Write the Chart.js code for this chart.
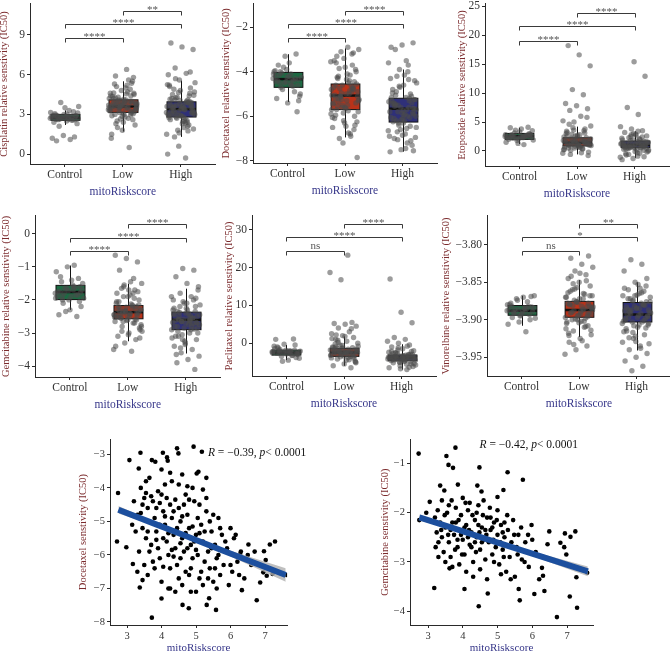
<!DOCTYPE html>
<html>
<head>
<meta charset="utf-8">
<script src="https://cdn.jsdelivr.net/npm/chart.js@4.4.0/dist/chart.umd.min.js"></script>
<style>
  body { margin: 0; background: #fff; width: 670px; height: 653px; position: relative; overflow: hidden; }
  canvas { position: absolute; }
</style>
</head>
<body>
<script>
// ---- data ----
const groups = ['Control', 'Low', 'High'];
const boxColors = ['#1d6a43', '#b9331a', '#2f3079'];

// box stats per group: [whisker low, q1, median, q3, whisker high]
const cisStats = [[2.2, 2.55, 2.75, 3.0, 3.3], [1.7, 3.15, 3.6, 4.1, 5.5], [1.3, 2.8, 3.4, 3.95, 5.55]];
const cisControl = [2.7, 2.8, 2.9, 2.6, 3.0, 2.75, 2.85, 2.65, 3.1, 2.5, 2.95, 3.2, 2.7, 2.8, 3.3, 2.6, 2.9, 3.5, 2.4, 2.8, 3.9, 3.6, 2.7, 1.0, 1.3, 1.4, 1.2, 1.1, 2.1, 2.3, 2.85, 3.05, 2.55, 2.75, 3.15,
  2.65, 2.78, 2.88, 2.72, 2.92, 2.58, 2.82, 2.68, 3.02, 2.62];
const cisLow = [3.6, 3.8, 4.0, 3.4, 3.2, 3.7, 4.2, 3.5, 3.9, 4.5, 3.1, 2.9, 3.3, 4.1, 3.6, 5.0, 5.3, 5.5, 4.8, 4.6, 2.7, 2.5, 2.2, 3.0, 3.8, 4.4, 3.5, 3.7, 6.4, 5.9, 5.8, 1.8, 1.2, 0.5, 4.3, 3.4, 2.8, 3.9, 4.0, 3.6, 3.3, 4.7, 5.1, 3.2, 2.4, 3.6, 4.9, 3.5, 3.8, 4.1, 3.0, 2.6, 3.7, 4.4, 5.6, 2.0, 3.4, 3.9, 4.2, 3.1, 3.6, 3.5, 5.2, 2.3, 4.6, 3.8, 1.5, 4.0, 3.3, 3.7,
  3.45, 3.65, 3.85, 4.05, 3.25, 3.55, 3.75, 3.95, 4.15, 4.35, 2.95, 3.15, 3.35, 4.55, 4.25, 3.05, 2.85, 3.62, 3.82, 4.02, 3.42, 3.72, 4.62, 5.35, 2.65];
const cisHigh = [3.4, 3.2, 3.6, 2.9, 3.8, 4.1, 2.7, 3.0, 3.5, 4.5, 5.0, 5.6, 6.0, 6.1, 6.5, 7.9, 8.1, 8.4, 2.2, 1.8, 1.5, 2.5, 3.3, 3.9, 4.8, 5.2, 2.4, 2.8, 3.1, 3.7, 4.2, 4.6, 0.6, 0.0, -0.3, 1.3, 3.4, 3.6, 2.6, 3.9, 4.3, 5.4, 2.0, 3.0, 3.5, 3.8, 2.9, 4.0, 5.7, 1.9, 2.3, 3.3, 4.4, 3.2, 3.6, 2.7, 4.9, 3.1, 3.4, 5.1, 2.1, 3.7, 4.7, 2.8, 3.5, 6.2, 1.6, 3.0, 3.9, 4.1,
  3.25, 3.45, 3.65, 3.85, 2.95, 3.15, 3.35, 3.55, 3.75, 4.05, 2.75, 2.55, 4.25, 4.45, 2.45, 3.05, 3.95, 4.65, 5.25, 2.35, 3.62, 3.12, 2.88, 4.15, 1.75];
const cisTicks = [0, 3, 6, 9];
const cisBrackets = [[1, 2, 8.75, '****'], [1, 3, 9.85, '****'], [2, 3, 10.85, '**']];

const docStats = [[-5.36, -4.7, -4.33, -4.03, -3.21], [-6.95, -5.7, -5.07, -4.55, -2.95], [-7.59, -6.26, -5.66, -5.19, -3.9]];
const docControl = [-4.3, -4.1, -4.5, -4.6, -3.9, -4.2, -4.4, -4.8, -5.0, -3.6, -3.7, -3.2, -3.3, -4.0, -4.35, -4.7, -5.3, -5.4, -5.2, -4.9, -3.8, -4.25, -4.55, -4.15, -5.8, -4.45, -3.95, -4.65, -4.05, -5.1,
  -4.2, -4.4, -4.3, -4.5, -4.1, -4.6, -4.0, -4.35, -4.25, -4.45];
const docLow = [-5.1, -4.9, -5.3, -4.6, -4.8, -5.5, -5.7, -4.4, -4.2, -4.0, -3.8, -3.5, -3.2, -3.1, -3.0, -2.9, -3.3, -6.0, -6.2, -6.5, -6.8, -7.0, -7.85, -5.0, -5.2, -4.7, -5.6, -5.9, -4.5, -4.3, -3.9, -6.3, -5.4, -4.65, -5.15, -5.8, -4.1, -3.6, -6.6, -7.2, -5.05, -4.85, -5.35, -4.55, -5.65, -6.1, -3.7, -4.95, -5.25, -5.75, -4.25, -6.4, -3.4, -5.45, -6.9, -4.75, -5.1, -4.35, -5.95, -3.15,
  -4.6, -4.8, -5.0, -5.2, -5.4, -5.6, -4.7, -4.9, -5.1, -5.3, -5.5, -5.7, -4.45, -5.85, -6.05, -4.15, -3.85, -6.25, -6.45, -5.05, -4.75, -5.25, -3.55, -6.75, -5.55];
const docHigh = [-5.7, -5.5, -5.9, -6.1, -5.3, -5.2, -6.3, -6.5, -6.8, -7.0, -7.3, -7.5, -7.6, -4.0, -4.2, -4.4, -4.6, -4.8, -5.0, -3.9, -3.6, -3.5, -3.0, -2.7, -2.8, -2.9, -5.6, -5.8, -6.0, -6.2, -5.4, -5.1, -6.6, -6.9, -7.2, -4.9, -5.65, -5.75, -5.45, -6.05, -6.4, -4.5, -7.45, -5.55, -5.85, -6.15, -4.3, -3.7, -6.7, -5.25, -5.95, -6.25, -7.1, -4.7, -5.35, -6.55, -5.05, -7.55, -6.85, -5.15,
  -5.3, -5.5, -5.7, -5.9, -6.1, -5.4, -5.6, -5.8, -6.0, -6.2, -5.25, -6.3, -4.95, -6.45, -4.65, -6.65, -5.15, -5.45, -5.65, -5.85, -6.05, -4.35, -7.05, -6.95, -4.15];
const docTicks = [-8, -6, -4, -2];
const docBrackets = [[1, 2, -2.49, '****'], [1, 3, -1.87, '****'], [2, 3, -1.29, '****']];

const etoStats = [[1.2, 2.0, 2.55, 3.03, 4.0], [-0.6, 0.86, 1.42, 2.28, 4.2], [-1.2, 0.57, 1.05, 1.71, 3.4]];
const etoControl = [2.5, 2.3, 2.7, 2.9, 2.1, 2.4, 2.6, 3.1, 3.5, 3.8, 4.0, 4.1, 1.8, 1.5, 1.1, 2.2, 2.8, 3.3, 2.0, 2.6, 3.6, 1.9, 2.45, 2.75, 3.0, 1.3, 2.35, 2.55,
  2.4, 2.6, 2.5, 2.3, 2.7, 2.2, 2.8, 2.45, 2.65, 2.35];
const etoLow = [1.5, 1.2, 0.9, 2.0, 1.7, 0.5, 0.2, -0.3, -0.6, -0.8, 2.5, 3.0, 3.5, 4.0, 4.3, 2.8, 1.0, 1.4, 1.8, 0.7, 0.4, 2.2, 1.6, 1.1, 3.2, 3.8, 5.0, 5.2, 6.0, 7.0, 7.3, 7.8, 8.2, 9.7, 10.6, 14.7, 16.6, 18.2, 1.3, 0.8, 2.4, 1.9, 0.1, -0.2, 2.7, 3.4, 1.55, 1.25, 0.95, 0.6, 4.6, 5.8, 2.1, 1.65, 0.35, 2.9, 1.0, 1.45,
  1.2, 1.4, 1.6, 1.8, 2.0, 0.9, 1.1, 1.3, 1.5, 1.7, 1.9, 2.1, 0.7, 0.5, 2.3, 2.6, 0.3, 1.0, 1.35, 1.75, 0.85, 2.45, 3.1, 3.6, -0.4];
const etoHigh = [1.0, 0.8, 1.2, 0.5, 0.3, 1.5, 1.8, 0.0, -0.3, -0.7, -1.0, -1.3, -1.5, 2.0, 2.3, 2.6, 2.9, 3.2, 3.5, 3.8, 4.2, 6.3, 7.5, 12.9, 15.4, 0.9, 1.1, 0.6, 1.4, 0.2, -0.5, 1.7, 0.7, 1.3, 2.1, 0.4, 1.6, -0.1, 0.95, 1.05, 2.5, 0.15, -0.9, 1.35, 0.85, 3.0, 1.9, 0.55, 1.25, -0.2, 2.7, 0.75,
  0.8, 1.0, 1.2, 1.4, 0.6, 0.9, 1.1, 1.3, 0.5, 0.7, 1.5, 1.7, 0.3, 0.1, 1.9, 2.2, -0.4, -0.6, 0.45, 1.15, 0.65, 2.4, 2.8, -1.1, 3.4];
const etoTicks = [0, 5, 10, 15, 20, 25];
const etoBrackets = [[1, 2, 19.0, '****'], [1, 3, 21.6, '****'], [2, 3, 23.8, '****']];

const gemStats = [[-2.3, -1.99, -1.76, -1.56, -0.96], [-3.25, -2.57, -2.37, -2.17, -1.51], [-3.62, -2.9, -2.6, -2.37, -1.66]];
const gemControl = [-1.8, -1.7, -1.9, -1.6, -2.0, -1.75, -1.85, -1.65, -1.5, -1.4, -1.3, -1.35, -1.0, -1.15, -0.95, -2.1, -2.2, -2.3, -2.45, -2.5, -2.35, -1.95, -1.55, -1.45, -2.05, -1.72, -1.88, -1.62,
  -1.8, -1.7, -1.9, -1.75, -1.85, -1.65, -1.95, -1.6, -2.0, -1.78];
const gemLow = [-2.4, -2.3, -2.5, -2.2, -2.6, -2.35, -2.45, -2.15, -2.55, -2.0, -1.9, -1.8, -1.7, -1.6, -1.5, -1.45, -1.1, -0.85, -0.75, -0.65, -2.7, -2.8, -2.9, -3.0, -3.1, -3.2, -3.3, -3.5, -3.55, -2.25, -2.38, -2.48, -2.1, -1.95, -2.65, -2.75, -1.85, -2.05, -2.42, -2.32, -2.52, -2.18, -1.65, -2.85, -3.05, -2.28, -2.58, -1.55, -2.95, -2.12, -2.44, -1.75, -2.62, -3.4, -1.35, -2.36,
  -2.3, -2.4, -2.5, -2.2, -2.35, -2.45, -2.25, -2.55, -2.15, -2.6, -2.05, -2.7, -1.9, -2.8, -2.42, -2.34, -2.48, -2.22, -2.65, -1.8, -2.95, -3.15, -1.7, -2.52, -2.28];
const gemHigh = [-2.6, -2.5, -2.7, -2.4, -2.8, -2.55, -2.65, -2.45, -2.75, -2.35, -2.2, -2.1, -2.0, -1.9, -1.8, -1.7, -1.5, -1.3, -1.1, -1.05, -2.9, -3.0, -3.1, -3.2, -3.3, -3.4, -3.5, -3.6, -3.7, -3.8, -3.9, -4.1, -2.58, -2.68, -2.48, -2.38, -2.85, -2.25, -2.62, -2.72, -3.05, -2.15, -2.52, -2.95, -1.95, -3.25, -2.42, -2.78, -3.45, -1.6, -2.3, -3.65, -2.88, -2.05, -3.15, -2.66,
  -2.6, -2.5, -2.7, -2.45, -2.55, -2.65, -2.75, -2.4, -2.8, -2.35, -2.85, -2.3, -2.9, -2.2, -3.0, -2.1, -3.1, -2.0, -3.2, -1.9, -2.62, -2.58, -2.68, -3.35, -2.25];
const gemTicks = [-4, -3, -2, -1, 0];
const gemBrackets = [[1, 2, -0.51, '****'], [1, 3, -0.12, '****'], [2, 3, 0.3, '****']];

const pacStats = [[-4.5, -3.16, -2.5, -1.84, -0.5], [-6.0, -3.5, -2.5, -1.4, 1.8], [-7.0, -4.65, -3.8, -3.16, -0.3]];
const pacControl = [-2.3, -2.0, -2.6, -2.8, -1.9, -1.5, -3.2, -3.5, -4.0, -4.5, -1.0, -0.5, -0.3, -2.2, -2.4, -1.7, -3.0, -2.9, 1.0, 1.1, -4.8, -2.1, -2.7, -1.3, -3.8, -2.5, -0.8, -3.3,
  -2.3, -2.5, -2.1, -2.7, -1.9, -2.4, -2.6, -2.2, -2.0, -2.8];
const pacLow = [-2.3, -2.0, -2.5, -1.5, -1.2, -3.0, -3.3, -3.8, -4.2, -4.8, -5.5, -6.0, -6.5, -0.5, 0.0, 0.5, 1.0, 1.5, 2.0, 2.5, 3.0, 4.0, 4.5, 5.0, 5.2, 5.5, 16.8, 18.7, 23.3, -2.8, -1.8, -2.6, -1.0, -3.5, -2.2, -1.6, -4.5, -0.2, -2.9, -1.4, -3.1, -2.1, 0.8, -5.0, -2.4, -1.9, 3.8, -3.6, -0.8, -2.7, 2.2, -4.0, -1.3, 1.2, -2.5,
  -2.0, -2.2, -2.4, -2.6, -2.8, -3.0, -1.8, -1.6, -1.4, -3.2, -3.4, -1.2, -2.1, -2.3, -2.5, -2.7, -1.0, -3.6, -0.6, -3.9, -4.4, 0.2, -5.2, 1.8, -2.45];
const pacHigh = [-3.8, -3.5, -4.0, -4.2, -3.2, -3.0, -2.8, -4.5, -4.8, -5.2, -5.5, -6.0, -6.5, -7.0, -2.5, -2.0, -1.5, -1.0, -0.5, 0.0, 0.5, 1.0, 1.5, 5.4, 8.2, 17.0, -3.6, -3.9, -4.1, -3.3, -4.4, -2.9, -5.0, -3.7, -4.3, -2.6, -6.2, -3.4, -4.6, -3.1, -1.8, -5.8, -4.7, -3.85, -2.2, -6.8, -3.95, -0.8, -4.15, -5.4,
  -3.6, -3.8, -4.0, -3.4, -4.2, -3.2, -4.4, -3.0, -4.6, -3.7, -3.9, -4.1, -3.5, -4.3, -2.7, -4.9, -5.1, -2.4, -5.6, -3.55, -3.75, -3.95, -2.1, -6.4, -1.2];
const pacTicks = [0, 10, 20, 30];
const pacBrackets = [[1, 2, 24.5, 'ns'], [1, 3, 28.2, '****'], [2, 3, 31.6, '****']];

const vinStats = [[-3.908, -3.894, -3.888, -3.881, -3.868], [-3.923, -3.8967, -3.887, -3.8755, -3.847], [-3.941, -3.903, -3.893, -3.877, -3.85]];
const vinControl = [-3.888, -3.885, -3.891, -3.883, -3.894, -3.880, -3.876, -3.872, -3.868, -3.870, -3.897, -3.900, -3.903, -3.906, -3.916, -3.886, -3.889, -3.892, -3.878, -3.882, -3.874, -3.898, -3.884, -3.890, -3.869, -3.895,
  -3.887, -3.885, -3.891, -3.884, -3.889, -3.882, -3.893, -3.886, -3.880, -3.890];
const vinLow = [-3.888, -3.884, -3.892, -3.879, -3.896, -3.876, -3.870, -3.865, -3.860, -3.855, -3.850, -3.845, -3.840, -3.835, -3.830, -3.826, -3.818, -3.815, -3.900, -3.905, -3.910, -3.915, -3.920, -3.925, -3.930, -3.935, -3.940, -3.946, -3.886, -3.890, -3.882, -3.894, -3.878, -3.898, -3.874, -3.868, -3.902, -3.862, -3.908, -3.857, -3.912, -3.887, -3.881, -3.893, -3.872, -3.918, -3.848, -3.899, -3.883, -3.928, -3.842, -3.891, -3.877, -3.903, -3.866, -3.933,
  -3.885, -3.889, -3.880, -3.893, -3.876, -3.897, -3.872, -3.900, -3.868, -3.904, -3.864, -3.909, -3.859, -3.887, -3.882, -3.891, -3.878, -3.895, -3.870, -3.902, -3.852, -3.914, -3.838, -3.921, -3.883];
const vinHigh = [-3.892, -3.888, -3.896, -3.884, -3.900, -3.880, -3.875, -3.870, -3.865, -3.860, -3.855, -3.850, -3.835, -3.826, -3.820, -3.905, -3.910, -3.915, -3.920, -3.925, -3.930, -3.935, -3.940, -3.945, -3.950, -3.955, -3.962, -3.968, -3.890, -3.894, -3.886, -3.898, -3.882, -3.902, -3.878, -3.872, -3.907, -3.867, -3.912, -3.862, -3.917, -3.891, -3.885, -3.897, -3.876, -3.922, -3.858, -3.903, -3.887, -3.932, -3.853, -3.893, -3.881, -3.908, -3.868, -3.938,
  -3.890, -3.895, -3.885, -3.899, -3.880, -3.903, -3.876, -3.907, -3.872, -3.911, -3.868, -3.916, -3.864, -3.892, -3.887, -3.897, -3.883, -3.901, -3.874, -3.905, -3.858, -3.924, -3.845, -3.929, -3.888];
const vinTicks = [-3.95, -3.90, -3.85, -3.80];
const vinBrackets = [[1, 2, -3.808, 'ns'], [1, 3, -3.7894, '*'], [2, 3, -3.772, '**']];

// scatter: [mitoRiskscore, IC50]
const docePoints = [[2.71,-5.6],[2.74,-4.15],[3.07,-3.17],[3.39,-2.95],[3.34,-3.42],[2.98,-5.77],[3.17,-6.27],[3.37,-6.97],[3.72,-7.87],[4.04,-2.95],[4.45,-2.82],[4.49,-2.97],[4.93,-2.77],[5.17,-2.92],[4.16,-3.09],[4.18,-3.19],[3.72,-3.17],[3.82,-3.22],[5.02,-3.57],[5.07,-3.52],[5.2,-4.05],[4.61,-7.49],[4.79,-7.59],[5.31,-7.49],[5.38,-7.29],[5.58,-7.64],[6.76,-7.35],[7.05,-6.62],[7.22,-6.57],[7.29,-5.6],[7.14,-5.69],[6.97,-5.89],[7.02,-6.15],[6.95,-6.52],[7.63,-6.6],[6.52,-5.69],[6.33,-7.05],[6.28,-5.97],[6.86,-6.82],
  [3.4,-4.0],[3.5,-4.3],[3.6,-4.6],[3.3,-4.8],[3.45,-5.2],[3.55,-5.5],[3.65,-5.0],[3.75,-4.4],[3.8,-4.9],[3.85,-5.3],[3.9,-5.8],[3.95,-6.1],[4.0,-4.2],[4.05,-4.7],[4.1,-5.1],[4.15,-5.6],[4.2,-6.0],[4.25,-4.5],[4.3,-4.9],[4.35,-5.4],[4.4,-5.8],[4.45,-6.3],[4.5,-4.6],[4.55,-5.0],[4.6,-5.5],[4.65,-5.9],[4.7,-6.5],[4.75,-4.8],[4.8,-5.2],[4.85,-5.7],[4.9,-6.1],[4.95,-4.4],[5.0,-5.4],[5.05,-6.0],[5.1,-6.7],[5.15,-5.1],[5.2,-5.6],[5.25,-6.2],[5.3,-4.7],[5.35,-5.9],[5.4,-6.4],[5.45,-5.3],[5.5,-6.8],[5.55,-5.7],[5.6,-6.1],[5.65,-4.9],[5.7,-6.6],[5.75,-5.4],[5.8,-6.3],[5.9,-5.8],[5.95,-6.9],[6.0,-5.2],[6.05,-6.5],[6.1,-5.5],[6.2,-6.2],[6.3,-5.9],[6.4,-6.7],[6.5,-6.0],
  [3.35,-5.9],[3.5,-6.3],[3.6,-6.6],[3.7,-5.7],[3.8,-6.4],[3.9,-4.1],[4.0,-6.8],[4.1,-3.9],[4.2,-7.0],[4.3,-3.8],[4.4,-7.1],[4.5,-3.9],[4.6,-6.9],[4.7,-4.2],[4.8,-6.6],[4.9,-4.0],[5.0,-7.1],[5.1,-4.5],[5.2,-6.9],[5.3,-4.3],[5.4,-5.0],[5.5,-4.8],[5.6,-7.0],[5.7,-5.2],[3.25,-5.3],[3.3,-6.5],[3.45,-4.5],[3.55,-3.8],[3.65,-5.9],[3.75,-6.2],[3.85,-4.6],[3.95,-5.1],[4.05,-5.5],[4.15,-4.3],[4.25,-6.4],[4.35,-4.7],[4.45,-5.2],[4.55,-6.1],[4.65,-4.5],[4.75,-5.8],[4.85,-6.4],[4.95,-5.6],[5.05,-4.9],[5.15,-6.5],[5.25,-5.3],[5.35,-6.7],[5.45,-5.8],[5.55,-6.4],[5.65,-6.0],[5.85,-5.6],[6.0,-6.3],[6.15,-5.4],[6.25,-6.6],[6.6,-6.3],[6.7,-5.9],
  [3.2,-4.4],[3.15,-5.1],[3.4,-4.75],[3.6,-5.3],[3.7,-4.25],[3.95,-4.45],[4.1,-4.85],[4.2,-5.35],[4.3,-5.85],[4.4,-4.35],[4.6,-4.85],[4.7,-5.35],[4.8,-4.35],[4.9,-5.15],[5.0,-5.85],[5.1,-5.35],[4.35,-6.05],[4.05,-6.35],[3.85,-5.55],[4.55,-5.65],[4.25,-3.55],[3.55,-4.15],[3.65,-3.7],[4.0,-3.45],[4.6,-3.6],[4.75,-3.95],[5.3,-3.7],[3.45,-6.75],[4.0,-7.3],[4.25,-7.0],[4.5,-6.7],[4.85,-7.1]];
const doceFitX = [2.75, 3.75, 4.6, 5.75, 7.6];
const doceFitY = [-4.65, -5.05, -5.39, -5.86, -6.6];
const doceCI = [0.11, 0.06, 0.05, 0.07, 0.2];
const doceR = '\u22120.39', doceP = '0.0001';
const doceYTicks = [-8, -7, -6, -5, -4, -3];

const gemPoints = [[2.73,-0.8],[3.79,-0.68],[3.53,-0.85],[3.59,-1.03],[3.72,-1.09],[4.48,-1.08],[5.29,-1.18],[5.73,-1.33],[3.35,-1.45],[3.47,-1.55],[3.86,-1.43],[4.42,-1.45],[4.54,-1.57],[5.17,-1.54],[5.0,-1.68],[3.18,-3.53],[4.05,-3.55],[3.62,-3.13],[4.46,-3.9],[4.72,-3.64],[5.61,-3.55],[5.64,-3.78],[6.06,-3.65],[6.35,-3.59],[6.71,-4.12],[7.08,-3.7],[7.29,-3.93],[7.27,-3.31],[7.58,-3.22],[7.24,-2.38],[6.94,-2.42],[7.1,-2.49],[6.81,-2.61],[6.92,-2.7],[6.98,-2.85],[6.49,-2.38],[6.44,-2.64],[6.28,-2.89],[6.28,-3.12],[6.31,-3.28],[2.75,-2.15],[2.95,-2.0],[3.05,-1.78],
  [3.2,-2.1],[3.25,-2.4],[3.3,-2.6],[3.35,-2.2],[3.4,-2.5],[3.45,-2.8],[3.5,-2.3],[3.55,-2.0],[3.6,-2.6],[3.65,-2.9],[3.7,-2.2],[3.75,-2.45],[3.8,-1.9],[3.85,-2.7],[3.9,-2.35],[3.95,-2.05],[4.0,-2.55],[4.05,-2.85],[4.1,-2.25],[4.15,-1.95],[4.2,-2.65],[4.25,-2.4],[4.3,-3.0],[4.35,-2.15],[4.4,-2.5],[4.45,-1.85],[4.5,-2.75],[4.55,-2.3],[4.6,-2.55],[4.65,-2.95],[4.7,-2.1],[4.75,-2.6],[4.8,-2.35],[4.85,-2.85],[4.9,-2.2],[4.95,-2.7],[5.0,-2.45],[5.05,-3.05],[5.1,-2.25],[5.15,-2.75],[5.2,-2.5],[5.25,-3.2],[5.3,-2.35],[5.35,-2.9],[5.4,-2.6],[5.45,-2.15],[5.5,-3.3],[5.55,-2.7],[5.6,-2.45],[5.7,-2.95],[5.8,-2.6],[5.9,-3.1],[6.0,-2.55],[6.1,-2.8],[6.2,-3.35],
  [3.22,-2.7],[3.28,-1.95],[3.38,-2.35],[3.48,-2.05],[3.58,-2.45],[3.68,-1.75],[3.78,-2.75],[3.88,-2.15],[3.98,-2.85],[4.08,-1.8],[4.18,-2.35],[4.28,-2.05],[4.38,-2.8],[4.48,-2.4],[4.58,-2.05],[4.68,-2.45],[4.78,-1.9],[4.88,-2.55],[4.98,-2.15],[5.08,-2.6],[5.18,-2.9],[5.28,-2.05],[5.38,-3.35],[5.48,-2.45],[5.58,-2.85],[5.68,-2.3],[5.78,-3.0],[5.88,-2.45],[5.98,-2.25],[3.3,-2.9],[3.5,-3.0],[3.7,-3.1],[3.9,-3.05],[4.1,-3.2],[4.3,-3.3],[4.5,-3.15],[4.7,-3.35],[4.9,-3.0],[5.1,-3.25],[3.4,-1.75],[3.6,-1.85],[3.8,-2.2],[4.0,-1.7],[4.2,-1.8],[4.4,-2.0],[4.6,-1.75],[4.8,-2.1],[5.0,-1.95],[5.2,-2.2],[3.95,-2.45],[4.25,-2.7],[4.55,-2.6],[4.85,-2.3],[4.15,-2.5],[4.45,-2.25],[3.65,-2.35],[3.85,-2.55],[4.05,-2.3],[4.35,-2.6],[4.65,-2.35],[5.15,-2.4]];
const gemFitX = [2.75, 3.75, 4.6, 5.75, 7.6];
const gemFitY = [-2.095, -2.32, -2.515, -2.775, -3.19];
const gemCI = [0.06, 0.035, 0.025, 0.04, 0.1];
const gemR = '\u22120.42', gemP = '0.0001';
const gemYTicks = [-4, -3, -2, -1];
const scoreTicks = [3, 4, 5, 6, 7];

// ---- styling ----
Chart.defaults.font.family = '"Liberation Serif", "DejaVu Serif", serif';
const axisCol = '#2a2a2a', tickCol = '#333', yTitleCol = '#7b2a2c', xTitleCol = '#37378a';
const ptCol = 'rgba(75,75,75,0.55)';

function fmt(v, d) {
  const s = Math.abs(v).toFixed(d);
  return v < 0 ? '\u2212' + s : s;
}
// spread of jittered points around a category
function jit(i) { return (((i * 0.6180339887) % 1) - 0.5) * 0.5; }

function place(left, top, w, h) {
  const c = document.createElement('canvas');
  c.width = w; c.height = h;
  c.style.left = left + 'px'; c.style.top = top + 'px';
  document.body.appendChild(c);
  return c;
}

function makeScales(p) {
  return {
    x: {
      type: 'linear', min: p.xMin, max: p.xMax,
      afterBuildTicks: s => { s.ticks = p.xTicks.map(v => ({ value: v })); },
      afterFit: s => { s.height = p.xH; },
      grid: { drawOnChartArea: false, drawTicks: true, tickLength: 3, color: axisCol },
      border: { color: axisCol, width: 1 },
      ticks: { color: tickCol, font: { size: p.tickSize }, padding: 1.5, maxRotation: 0, autoSkip: false, callback: p.xFmt },
      title: { display: true, text: 'mitoRiskscore', color: xTitleCol, font: { size: p.titleSize }, padding: 0 }
    },
    y: {
      min: p.yMin, max: p.yMax,
      afterBuildTicks: s => { s.ticks = p.yTicks.map(v => ({ value: v })); },
      afterFit: s => { s.width = p.yW; },
      grid: { drawOnChartArea: false, drawTicks: true, tickLength: 3, color: axisCol },
      border: { color: axisCol, width: 1 },
      ticks: { color: tickCol, font: { size: p.tickSize }, padding: 2, autoSkip: false, callback: v => fmt(v, p.yDec) },
      title: { display: true, text: p.yTitle, color: yTitleCol, font: { size: p.yTitleSize }, padding: 0 }
    }
  };
}

function panel(p, datasets, plugins) {
  const padT = 8;
  const plotH = p.bottom - p.top;
  const cw = Math.ceil(p.yW + p.plotW + 30);
  const ch = padT + plotH + p.xH;
  const canvas = place(p.axisX - p.yW, p.top - padT, cw, ch);
  return new Chart(canvas, {
    type: 'scatter',
    data: { datasets },
    options: {
      responsive: false, animation: false, devicePixelRatio: 1,
      layout: { padding: { top: padT, left: 0, bottom: 0, right: cw - p.yW - p.plotW } },
      plugins: { legend: { display: false }, tooltip: { enabled: false } },
      scales: makeScales(p)
    },
    plugins
  });
}

function boxPanel(p, stats, lists, brackets) {
  const s = p.spacing;
  Object.assign(p, {
    xMin: 0.4, xMax: 3.6, plotW: 3.2 * s, xTicks: [1, 2, 3], xH: 35,
    tickSize: 11.5, titleSize: 11.5, yTitleSize: 10.5,
    xFmt: v => groups[v - 1]
  });
  const pts = [];
  lists.forEach((vals, g) => vals.forEach((v, i) => pts.push({ x: g + 1 + jit(i + g * 7), y: v })));
  const boxes = {
    id: 'boxes',
    beforeDatasetsDraw(chart) {
      const { ctx, scales: { x, y } } = chart;
      ctx.save();
      stats.forEach((st, i) => {
        const cx = Math.round(x.getPixelForValue(i + 1)) + 0.5;
        const half = x.getPixelForValue(i + 1.25) - x.getPixelForValue(i + 1);
        const [lo, q1, md, q3, hi] = st.map(v => y.getPixelForValue(v));
        ctx.strokeStyle = '#111'; ctx.lineWidth = 1;
        ctx.beginPath(); ctx.moveTo(cx, lo); ctx.lineTo(cx, hi); ctx.stroke();
        ctx.fillStyle = boxColors[i];
        ctx.fillRect(cx - half, q3, half * 2, q1 - q3);
        ctx.strokeRect(cx - half, q3, half * 2, q1 - q3);
        ctx.lineWidth = 2.5;
        ctx.beginPath(); ctx.moveTo(cx - half, md); ctx.lineTo(cx + half, md); ctx.stroke();
      });
      ctx.restore();
    },
    afterDatasetsDraw(chart) {
      const { ctx, scales: { x, y } } = chart;
      ctx.save();
      ctx.strokeStyle = '#3a3a3a'; ctx.lineWidth = 1;
      ctx.fillStyle = '#555';
      ctx.font = '11px "Liberation Serif", serif';
      ctx.textAlign = 'center'; ctx.textBaseline = 'bottom';
      brackets.forEach(([a, b, lv, label]) => {
        const xa = Math.round(x.getPixelForValue(a)) + 0.5, xb = Math.round(x.getPixelForValue(b)) + 0.5;
        const yy = Math.round(y.getPixelForValue(lv)) + 0.5;
        ctx.beginPath();
        ctx.moveTo(xa, yy + 4); ctx.lineTo(xa, yy); ctx.lineTo(xb, yy); ctx.lineTo(xb, yy + 4);
        ctx.stroke();
        ctx.fillText(label, (xa + xb) / 2, yy + (label === 'ns' ? 0 : 4));
      });
      ctx.restore();
    }
  };
  panel(p, [{ data: pts, pointRadius: 2.7, pointBorderWidth: 0, pointBackgroundColor: ptCol }], [boxes]);
}

function scatterPanel(p, points, fitX, fitY, ci, r, pval, pos) {
  Object.assign(p, {
    xTicks: scoreTicks, xH: 30, tickSize: 10.5, titleSize: 11, yTitleSize: 10.5, yDec: 0,
    plotW: (p.xMax - p.xMin) * p.pxPerX, xFmt: v => String(v)
  });
  const upper = fitX.map((x, i) => ({ x, y: fitY[i] + ci[i] }));
  const lower = fitX.map((x, i) => ({ x, y: fitY[i] - ci[i] }));
  const fit = fitX.map((x, i) => ({ x, y: fitY[i] }));
  const label = {
    id: 'stat',
    afterDatasetsDraw(chart) {
      const { ctx, scales: { x, y } } = chart;
      const parts = [['R', 'italic '], [' = ' + r + ', ', ''], ['p', 'italic '], ['< ' + pval, '']];
      ctx.save();
      ctx.fillStyle = '#111'; ctx.textBaseline = 'middle'; ctx.textAlign = 'left';
      const w = parts.map(([t, st]) => { ctx.font = st + '11.5px "Liberation Serif", serif'; return ctx.measureText(t).width; });
      let cx = x.getPixelForValue(pos[0]) - w.reduce((a, b) => a + b, 0) / 2;
      const cy = y.getPixelForValue(pos[1]);
      parts.forEach(([t, st], i) => {
        ctx.font = st + '11.5px "Liberation Serif", serif';
        ctx.fillText(t, cx, cy);
        cx += w[i];
      });
      ctx.restore();
    }
  };
  panel(p, [
    { type: 'line', data: fit, borderColor: '#1c4f9e', borderWidth: 6, pointRadius: 0, order: 1 },
    { type: 'line', data: upper, borderWidth: 0, pointRadius: 0, fill: '+1', backgroundColor: 'rgba(175,175,175,0.8)', order: 2 },
    { type: 'line', data: lower, borderWidth: 0, pointRadius: 0, fill: false, order: 2 },
    { data: points.map(([x, y]) => ({ x, y })), pointRadius: 2.3, pointBorderWidth: 0, pointBackgroundColor: '#000', order: 3 }
  ], [label]);
}

// ---- panels ----
boxPanel({ axisX: 30, yW: 32, top: 3, bottom: 164, spacing: 58, yMin: -0.75, yMax: 11.35, yTicks: cisTicks, yDec: 0,
  yTitle: 'Cisplatin relative senstivity (IC50)' }, cisStats, [cisControl, cisLow, cisHigh], cisBrackets);
boxPanel({ axisX: 253, yW: 33, top: 3, bottom: 163, spacing: 57.5, yMin: -8.1, yMax: -0.95, yTicks: docTicks, yDec: 0,
  yTitle: 'Docetaxel relative senstivity (IC50)' }, docStats, [docControl, docLow, docHigh], docBrackets);
boxPanel({ axisX: 485, yW: 29, top: 3, bottom: 166, spacing: 57.5, yMin: -2.6, yMax: 25.4, yTicks: etoTicks, yDec: 0,
  yTitle: 'Etoposide relative senstivity (IC50)' }, etoStats, [etoControl, etoLow, etoHigh], etoBrackets);
boxPanel({ axisX: 35, yW: 35, top: 215, bottom: 377, spacing: 58, yMin: -4.33, yMax: 0.54, yTicks: gemTicks, yDec: 0,
  yTitle: 'Gemcitabine relative senstivity (IC50)' }, gemStats, [gemControl, gemLow, gemHigh], gemBrackets);
boxPanel({ axisX: 252, yW: 29, top: 215, bottom: 376, spacing: 57.5, yMin: -8.7, yMax: 33.7, yTicks: pacTicks, yDec: 0,
  yTitle: 'Paclitaxel relative senstivity (IC50)' }, pacStats, [pacControl, pacLow, pacHigh], pacBrackets);
boxPanel({ axisX: 487, yW: 47, top: 215, bottom: 376, spacing: 57.5, yMin: -3.975, yMax: -3.7615, yTicks: vinTicks, yDec: 2,
  yTitle: 'Vinorelbine relative senstivity (IC50)' }, vinStats, [vinControl, vinLow, vinHigh], vinBrackets);

scatterPanel({ axisX: 110, yW: 33, top: 439, bottom: 625, xMin: 2.507, xMax: 7.64, pxPerX: 34.5,
  yMin: -8.09, yMax: -2.55, yTicks: doceYTicks, yTitle: 'Docetaxel senstivity (IC50)' },
  docePoints, doceFitX, doceFitY, doceCI, doceR, doceP, [6.77, -2.97]);
scatterPanel({ axisX: 410, yW: 31, top: 439, bottom: 625, xMin: 2.482, xMax: 7.75, pxPerX: 34.75,
  yMin: -4.28, yMax: -0.51, yTicks: gemYTicks, yTitle: 'Gemcitabine senstivity (IC50)' },
  gemPoints, gemFitX, gemFitY, gemCI, gemR, gemP, [5.9, -0.635]);
</script>
</body>
</html>
